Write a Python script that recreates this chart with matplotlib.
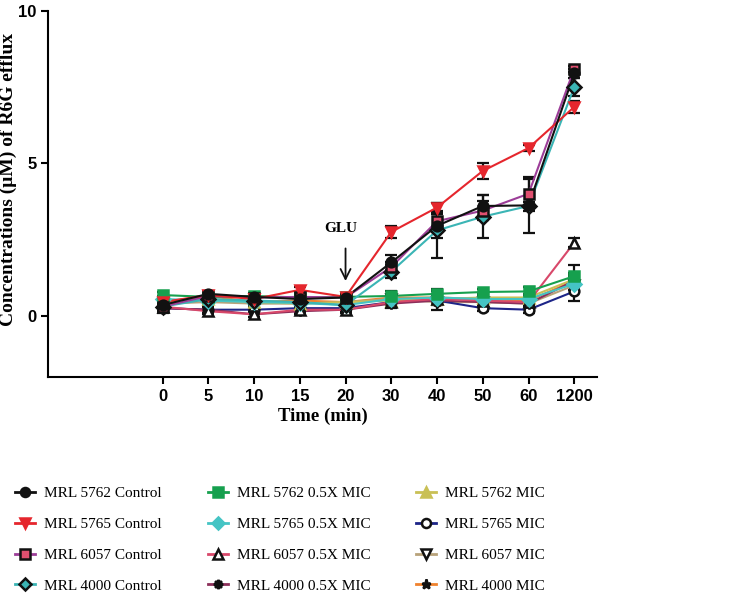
import matplotlib
matplotlib.use("Agg")
import matplotlib.pyplot as plt

# time points (categorical x axis)
times = ["0", "5", "10", "15", "20", "30", "40", "50", "60", "1200"]

labels = ["MRL 5762 Control", "MRL 5765 Control", "MRL 6057 Control", "MRL 4000 Control",
          "MRL 5762 0.5X MIC", "MRL 5765 0.5X MIC", "MRL 6057 0.5X MIC", "MRL 4000 0.5X MIC",
          "MRL 5762 MIC", "MRL 5765 MIC", "MRL 6057 MIC", "MRL 4000 MIC"]

ctrl_5762 = [0.35, 0.72, 0.62, 0.55, 0.60, 1.75, 2.95, 3.60, 3.62, 7.95]
ctrl_5765 = [0.45, 0.68, 0.55, 0.85, 0.62, 2.75, 3.55, 4.75, 5.50, 6.85]
ctrl_6057 = [0.30, 0.65, 0.60, 0.62, 0.60, 1.60, 3.10, 3.45, 4.00, 8.10]
ctrl_4000 = [0.30, 0.55, 0.50, 0.45, 0.35, 1.45, 2.80, 3.25, 3.60, 7.50]
half_5762 = [0.68, 0.62, 0.65, 0.60, 0.62, 0.65, 0.72, 0.78, 0.80, 1.30]
half_5765 = [0.55, 0.50, 0.45, 0.42, 0.35, 0.55, 0.60, 0.55, 0.55, 1.05]
half_6057 = [0.30, 0.15, 0.05, 0.20, 0.20, 0.45, 0.55, 0.50, 0.45, 2.40]
half_4000 = [0.25, 0.20, 0.05, 0.15, 0.20, 0.40, 0.50, 0.45, 0.40, 1.15]
mic_5762 = [0.50, 0.55, 0.45, 0.40, 0.45, 0.50, 0.55, 0.60, 0.60, 1.20]
mic_5765 = [0.25, 0.20, 0.20, 0.25, 0.25, 0.45, 0.50, 0.25, 0.20, 0.80]
mic_6057 = [0.40, 0.45, 0.40, 0.40, 0.45, 0.55, 0.45, 0.45, 0.40, 1.00]
mic_4000 = [0.45, 0.65, 0.45, 0.50, 0.45, 0.60, 0.60, 0.55, 0.50, 1.15]

err_ctrl_5762 = [0.1, 0.1, 0.1, 0.1, 0.1, 0.25, 0.4, 0.35, 0.1, 0.15]
err_ctrl_5765 = [0.1, 0.1, 0.1, 0.1, 0.1, 0.2, 0.15, 0.25, 0.1, 0.2]
err_ctrl_6057 = [0.1, 0.1, 0.1, 0.1, 0.1, 0.15, 0.35, 0.3, 0.55, 0.1]
err_ctrl_4000 = [0.1, 0.1, 0.1, 0.1, 0.1, 0.2, 0.9, 0.7, 0.9, 0.3]
err_half_5762 = [0.1, 0.1, 0.1, 0.1, 0.1, 0.15, 0.15, 0.1, 0.15, 0.35]
err_half_5765 = [0.1, 0.1, 0.1, 0.1, 0.1, 0.1, 0.1, 0.1, 0.1, 0.2]
err_half_6057 = [0.1, 0.1, 0.1, 0.1, 0.1, 0.1, 0.1, 0.1, 0.1, 0.15]
err_half_4000 = [0.15, 0.1, 0.1, 0.1, 0.1, 0.15, 0.3, 0.1, 0.1, 0.2]
err_mic_5762 = [0.1, 0.1, 0.1, 0.1, 0.1, 0.1, 0.1, 0.1, 0.1, 0.2]
err_mic_5765 = [0.1, 0.1, 0.1, 0.1, 0.1, 0.1, 0.1, 0.1, 0.1, 0.3]
err_mic_6057 = [0.1, 0.1, 0.1, 0.1, 0.1, 0.1, 0.1, 0.1, 0.1, 0.15]
err_mic_4000 = [0.1, 0.1, 0.1, 0.1, 0.1, 0.1, 0.1, 0.1, 0.1, 0.15]

series = [ctrl_5762, ctrl_5765, ctrl_6057, ctrl_4000,
          half_5762, half_5765, half_6057, half_4000,
          mic_5762, mic_5765, mic_6057, mic_4000]
errors = [err_ctrl_5762, err_ctrl_5765, err_ctrl_6057, err_ctrl_4000,
          err_half_5762, err_half_5765, err_half_6057, err_half_4000,
          err_mic_5762, err_mic_5765, err_mic_6057, err_mic_4000]

# (line colour, marker, marker face, marker edge)
styles = [
    ("#111111", "o", "#111111", "#111111"),
    ("#e5262d", "v", "#e5262d", "#e5262d"),
    ("#9c3d98", "s", "#e05070", "#111111"),
    ("#3bb5b5", "D", "#3bb5b5", "#111111"),
    ("#16a04e", "s", "#16a04e", "#16a04e"),
    ("#45c4c4", "D", "#45c4c4", "#45c4c4"),
    ("#d8486a", "^", "white", "#111111"),
    ("#8c2f5a", (8, 1, 0), "#111111", "#111111"),
    ("#c9c055", "^", "#c9c055", "#c9c055"),
    ("#1d2588", "o", "white", "#111111"),
    ("#b8a27a", "v", "white", "#111111"),
    ("#f0822e", "*", "#111111", "#111111"),
]

fig = plt.figure(figsize=(7.3, 6), dpi=100)
ax = fig.add_axes([0.066, 0.372, 0.752, 0.61])

x = list(range(len(times)))
handles = []
# draw later series first so controls sit on top
for i in reversed(range(len(series))):
    col, mk, fc, ec = styles[i]
    ax.errorbar(x, series[i], yerr=errors[i], fmt="none", ecolor="#111111",
                elinewidth=1.6, capsize=4, capthick=1.6, zorder=2)
    ax.plot(x, series[i], color=col, lw=1.5, zorder=3)
    ax.plot(x, series[i], ls="none", marker=mk, ms=7, mfc=fc, mec=ec, mew=1.8, zorder=4)

for i in range(len(series)):
    col, mk, fc, ec = styles[i]
    h, = ax.plot([], [], color=col, lw=2, marker=mk, ms=6.5, mfc=fc, mec=ec, mew=1.8)
    handles.append(h)

ax.set_xlim(-2.5, 9.5)
ax.set_ylim(-2, 10)
ax.set_xticks(x)
ax.set_xticklabels(times)
ax.set_yticks([0, 5, 10])
for s in ["top", "right"]:
    ax.spines[s].set_visible(False)
for s in ["left", "bottom"]:
    ax.spines[s].set_linewidth(1.5)
ax.tick_params(width=1.5, length=5, direction="out")
for t in ax.get_xticklabels() + ax.get_yticklabels():
    t.set_fontfamily("Liberation Sans")
    t.set_fontweight("bold")
    t.set_fontsize(12)

ax.set_xlabel("Time (min)", family="Liberation Serif", weight="bold", fontsize=13.5, labelpad=3)
ax.set_ylabel("Concentrations (\u03bcM) of R6G efflux", family="Liberation Serif",
              weight="bold", fontsize=14)
ax.yaxis.set_label_coords(-0.056, 0.54)

ax.annotate("", xy=(4, 1.05), xytext=(4, 2.3),
            arrowprops=dict(arrowstyle="->", lw=1.3, color="#111111", mutation_scale=18))
ax.text(3.9, 2.85, "GLU", family="Liberation Serif", weight="bold", fontsize=11,
        ha="center", va="center")

fig.legend(handles, labels, loc="upper left", bbox_to_anchor=(0.002, 0.212), ncol=3,
           frameon=False, prop={"family": "Liberation Serif", "size": 11},
           handlelength=1.3, handletextpad=0.6, columnspacing=3.0, labelspacing=1.12)

fig.savefig("out.png", dpi=100)
